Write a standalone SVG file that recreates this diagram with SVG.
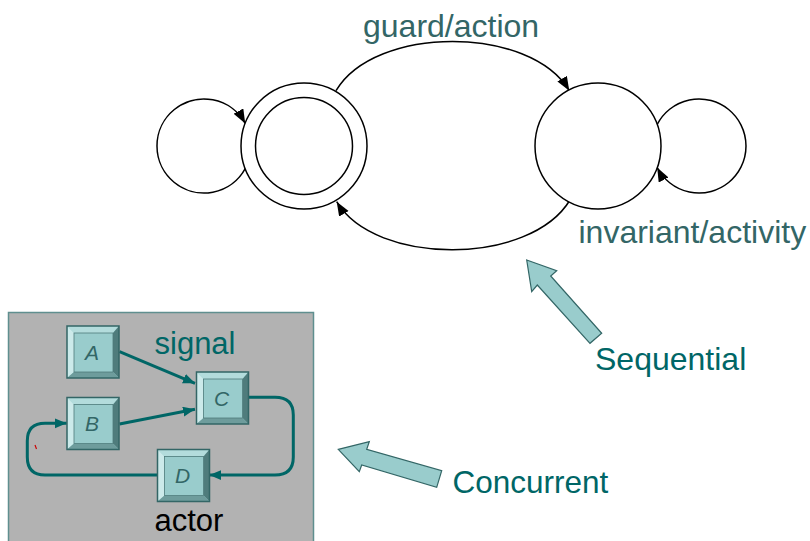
<svg xmlns="http://www.w3.org/2000/svg" xmlns:xlink="http://www.w3.org/1999/xlink" width="810" height="541" viewBox="0 0 810 541">
  <style>
    .state { fill: #ffffff; stroke: #000000; stroke-width: 1.5; }
    .edge { fill: none; stroke: #000000; stroke-width: 1.5; marker-end: url(#blackHead); }
    .wire { fill: none; stroke: #006666; stroke-width: 3; marker-end: url(#tealHead); }
    .lbl { font-family: "Liberation Sans", Arial, sans-serif; font-size: 32px; }
    .muted { fill: #336666; }
    .teal { fill: #006666; }
    .blk-letter { font-family: "Liberation Sans", Arial, sans-serif; font-size: 21px; font-style: italic; fill: #336666; text-anchor: middle; }
    .bigarrow { fill: #99CCCC; stroke: #336666; stroke-width: 1.2; stroke-linejoin: miter; }
  </style>
  <defs>
    <marker id="blackHead" markerUnits="userSpaceOnUse" markerWidth="16" markerHeight="13" refX="14" refY="5.5" orient="auto">
      <path d="M0,0 L14,5.5 L0,11 Z" fill="#000000"/>
    </marker>
    <marker id="tealHead" markerUnits="userSpaceOnUse" markerWidth="14" markerHeight="12" refX="12" refY="5" orient="auto">
      <path d="M0,0 L12,5 L0,10 Z" fill="#006666"/>
    </marker>
    <!-- bevelled actor block, 52 x 52 -->
    <g id="block">
      <rect x="0" y="0" width="52" height="52" fill="#99CCCC"/>
      <polygon points="0,0 52,0 46,7 7,7" fill="#B3DCDC"/>
      <polygon points="0,0 7,7 7,46 0,52" fill="#CCEAEA"/>
      <polygon points="52,0 52,52 46,46 46,7" fill="#4F7C7C"/>
      <polygon points="0,52 52,52 46,46 7,46" fill="#6E9C9C"/>
      <rect x="7" y="7" width="39" height="39" fill="#99CCCC" stroke="#4F7C7C" stroke-width="0.8"/>
      <rect x="0" y="0" width="52" height="52" fill="none" stroke="#336666" stroke-width="1.5"/>
    </g>
  </defs>

  <!-- state machine: connectors -->
  <g id="connectors-top">
    <path class="edge" d="M245.2,168.6 A47,47 0 1 1 245.2,123.4"/>
    <path class="edge" d="M657.2,124.5 A47,47 0 1 1 657.2,167.5"/>
    <path class="edge" d="M336,90.7 C375,25 530,25 569.3,90.7"/>
    <path class="edge" d="M570,200 C530,266 375,266 336.7,201.7"/>
  </g>

  <!-- state machine: states -->
  <g id="state-initial">
    <circle class="state" cx="304" cy="146" r="63"/>
    <circle class="state" cx="304" cy="146" r="48.5"/>
  </g>
  <g id="state-other">
    <circle class="state" cx="598" cy="146" r="63"/>
  </g>

  <text class="lbl muted" x="363" y="36.7">guard/action</text>
  <text class="lbl muted" x="578.5" y="243.3">invariant/activity</text>

  <!-- pointer arrows -->
  <g id="arrow-sequential">
    <polygon class="bigarrow" points="526.7,260 556.7,270.7 550.7,276 601.7,333.3 590,343.3 537.3,285 531.7,291.7"/>
  </g>
  <g id="arrow-concurrent">
    <polygon class="bigarrow" points="338.3,449.3 369.3,441.7 366.7,449.3 441.7,470.7 436.7,487.3 361.7,465 359.3,471.7"/>
  </g>
  <text class="lbl teal" x="595" y="370">Sequential</text>
  <text class="lbl teal" x="452.5" y="493.3" style="font-size:31.5px">Concurrent</text>

  <!-- actor network panel -->
  <g id="panel">
    <rect x="8.5" y="312.5" width="305" height="240" fill="#B2B2B2" stroke="#5F8F8F" stroke-width="1.5"/>
    <path d="M35,445 L36.5,449" stroke="#CC0000" stroke-width="1.2"/>
  </g>

  <g id="connectors-panel">
    <path class="wire" d="M119.5,351.7 L195,383.3"/>
    <path class="wire" d="M119.5,424 L195,409.3"/>
    <path class="wire" d="M248.7,397.3 H275 Q293.3,397.3 293.3,415 V457 Q293.3,475 275,475 H209.3"/>
    <path class="wire" d="M157.3,475 H45 Q27.3,475 27.3,457 V441 Q27.3,423.3 45,423.3 H66.7"/>
  </g>

  <g id="actor-A">
    <use xlink:href="#block" x="67" y="326"/>
    <text class="blk-letter" x="92" y="359.5">A</text>
  </g>
  <g id="actor-B">
    <use xlink:href="#block" x="67" y="397.5"/>
    <text class="blk-letter" x="92" y="431">B</text>
  </g>
  <g id="actor-C">
    <use xlink:href="#block" x="196.5" y="372"/>
    <text class="blk-letter" x="221.5" y="405.5">C</text>
  </g>
  <g id="actor-D">
    <use xlink:href="#block" x="157.5" y="449.5"/>
    <text class="blk-letter" x="182.5" y="483">D</text>
  </g>

  <text class="lbl teal" x="154.5" y="354" style="font-size:31px">signal</text>
  <text class="lbl" x="154.5" y="531" style="font-size:31px" fill="#000000">actor</text>
</svg>
